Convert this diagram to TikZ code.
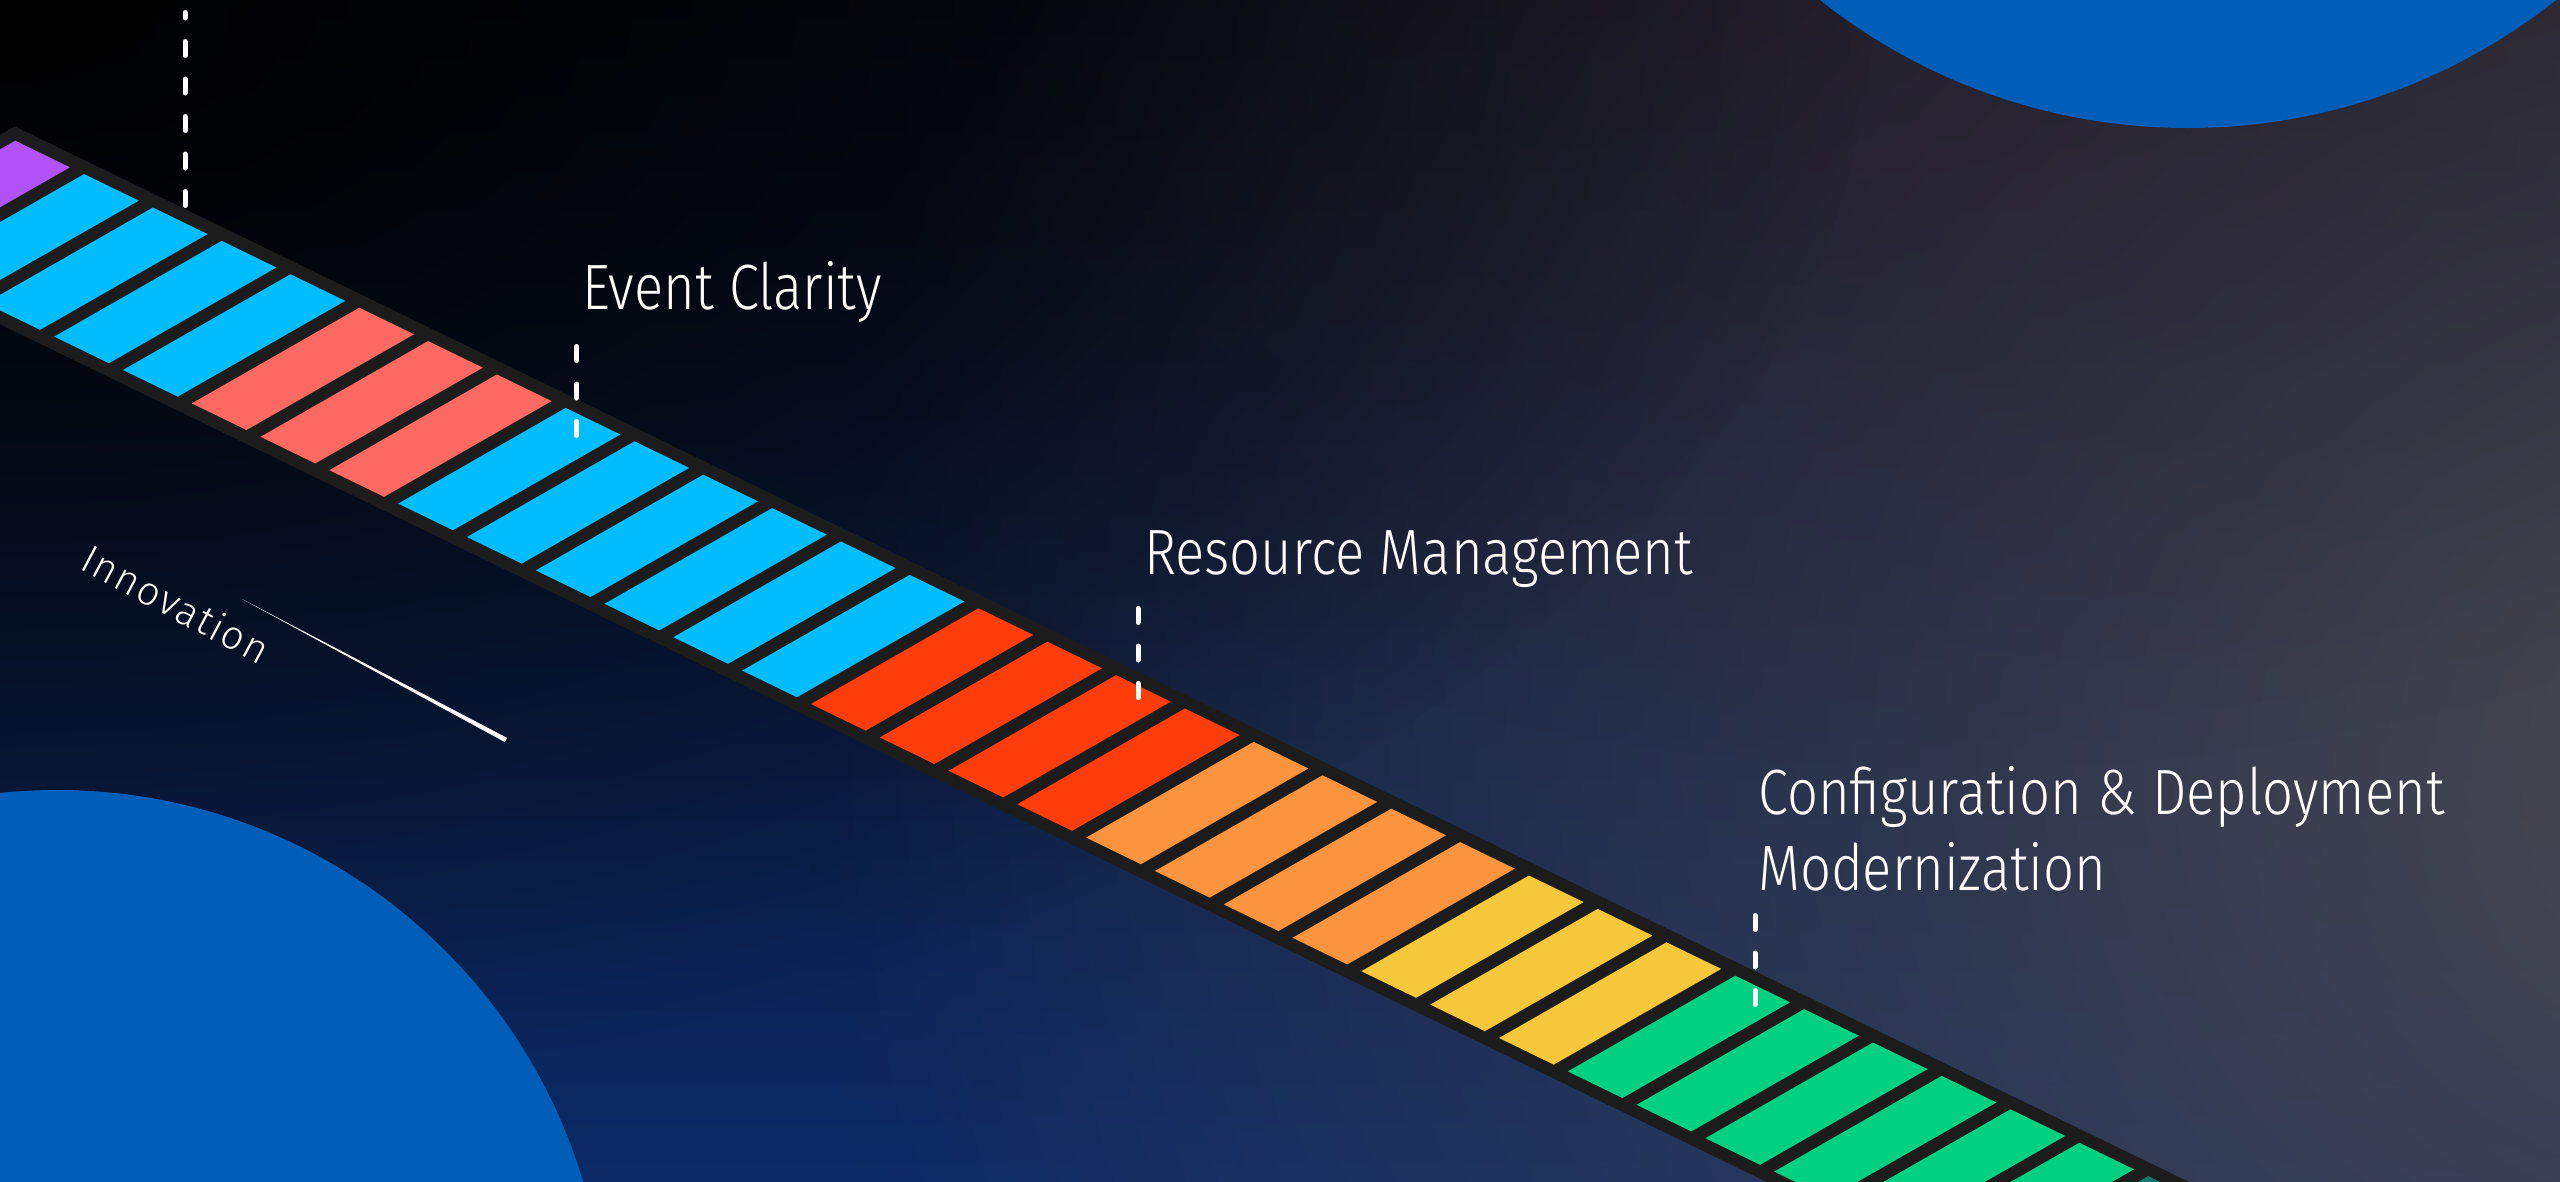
\documentclass[tikz,border=0pt]{standalone}
\usepackage{fontspec}
\newfontfamily\labelfont{Fira Sans Light}[FakeStretch=0.85]
\newfontfamily\innofont{Fira Sans Light}[LetterSpace=4]
\usetikzlibrary{fadings}
\definecolor{cpurple}{HTML}{B052F7}
\definecolor{ccyan}{HTML}{02BDFD}
\definecolor{csalmon}{HTML}{FE6A62}
\definecolor{cred}{HTML}{FE3D0B}
\definecolor{corange}{HTML}{FC943F}
\definecolor{cyellow}{HTML}{F6C73A}
\definecolor{cgreen}{HTML}{01CF82}
\definecolor{cteal}{HTML}{16786A}
\definecolor{cstrip}{HTML}{1C1C1C}
\definecolor{cblue}{HTML}{005EB8}
\definecolor{bgtop}{HTML}{080B16}
\definecolor{bgbottom}{HTML}{0C2A66}
\definecolor{bggray}{HTML}{4A4850}
\definecolor{bgplum}{HTML}{2A1E30}
\tikzfading[name=myglow, inner color=transparent!0, outer color=transparent!100]

\begin{document}
\begin{tikzpicture}[x=1pt,y=-1pt,
      mycircle/.style={fill=cblue},
      mystrip/.style={fill=cstrip},
      mypin/.style={
         draw=white,
         line width=5pt,
         line cap=round,
         dash pattern=on 14pt off 23.5pt},
      mylabel/.style={
         text=white,
         inner sep=0pt,
         anchor=base west,
         font=\labelfont\fontsize{64}{76}\selectfont},
      myinno/.style={
         text=white,
         inner sep=0pt,
         rotate=-28,
         font=\innofont\fontsize{40}{46}\selectfont},
      ]
  \useasboundingbox (0,0) rectangle (2560,1181);
  \clip (0,0) rectangle (2560,1181);
  \shade[top color=bgtop, bottom color=bgbottom] (0,0) rectangle (2560,1181);
  \fill[bggray, path fading=myglow] (2760,760) ellipse [x radius=1950, y radius=1800];
  \fill[bgplum, path fading=myglow, opacity=0.45] (1950,120) ellipse [x radius=1200, y radius=650];
  \fill[black, path fading=myglow] (0,0) ellipse [x radius=1900, y radius=1100];
  \fill[mycircle] (2188,-465) circle (593);
  \fill[mycircle] (57,1339) circle (549);
  \fill[mystrip] (14.7,126.4) -- ++(2408,1169) -- ++(-194,110.8) -- ++(-2408,-1169) -- cycle;
  \foreach \k/\c in {
      0/cpurple, 1/ccyan, 2/ccyan, 3/ccyan, 4/ccyan,
      5/csalmon, 6/csalmon, 7/csalmon,
      8/ccyan, 9/ccyan, 10/ccyan, 11/ccyan, 12/ccyan, 13/ccyan,
      14/cred, 15/cred, 16/cred, 17/cred,
      18/corange, 19/corange, 20/corange, 21/corange,
      22/cyellow, 23/cyellow, 24/cyellow,
      25/cgreen, 26/cgreen, 27/cgreen, 28/cgreen, 29/cgreen, 30/cgreen,
      31/cteal, 32/cteal}
     \fill[\c] ({15.3+68.8*\k},{140.7+33.4*\k}) -- ++(54.7,26.6) -- ++(-167.5,95.7) -- ++(-54.7,-26.6) -- cycle;
  \node[mylabel] (evclar) at (582,309) {Event Clarity};
  \node[mylabel] (resmgmt) at (1144,574) {Resource Management};
  \node[mylabel] (cfgdep) at (1758,814) {Configuration \& Deployment};
  \node[mylabel] (modern) at (1758,890) {Modernization};
  \node[myinno] (innov) at (176,604) {Innovation};
  \foreach \i/\x/\ya/\yb in {
      1/185/205.5/12.5,
      2/576.7/435.5/346.5,
      3/1138/697.5/606,
      4/1755/1004.5/915.5}
     {
     \coordinate (pin\i a) at (\x,\ya);
     \coordinate (pin\i b) at (\x,\yb);
     \draw[mypin] (pin\i a) -- (pin\i b);
     }
  \coordinate (innoA) at (242,599);
  \coordinate (innoB) at (506,740);
  \fill[white] (innoA) -- ([shift={(-1.1,2.1)}]innoB) -- ([shift={(1.1,-2.1)}]innoB) -- cycle;
\end{tikzpicture}
\end{document}
